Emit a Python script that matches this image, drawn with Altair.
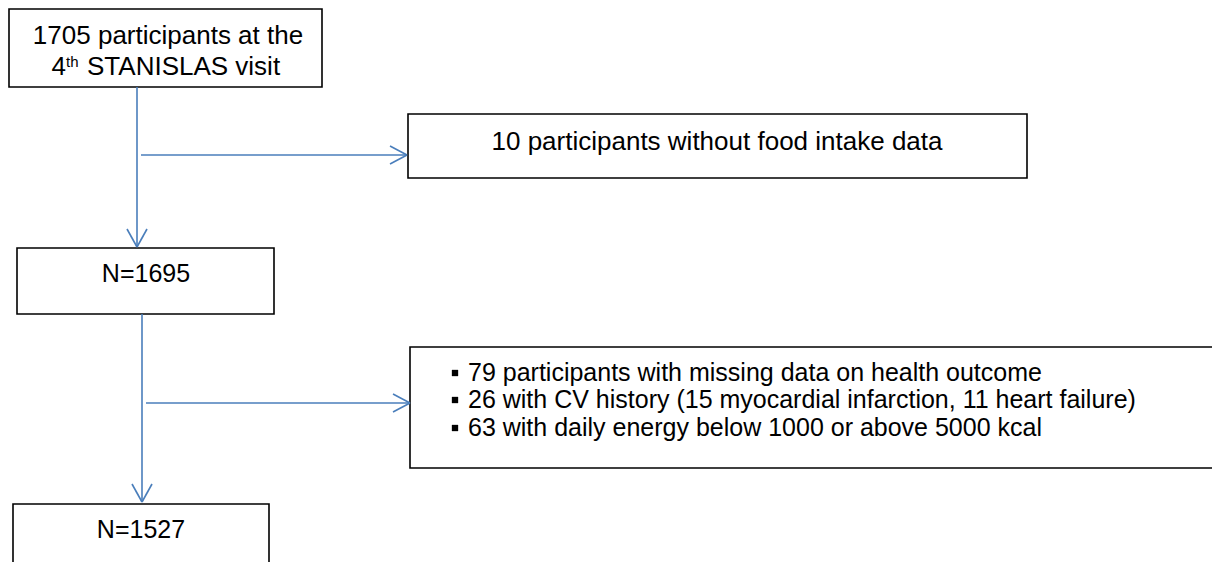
import altair as alt
import pandas as pd

# ---- boxes (reference pixel coordinates) ----
box_id = ["start", "excl1", "n1695", "excl2", "n1527"]
box_x1 = [9, 408, 17, 410, 13]
box_x2 = [322, 1027, 274, 1230, 269]
box_y1 = [9, 114, 248, 347, 504]
box_y2 = [87, 178, 314, 468, 580]

# ---- connector lines ----
seg_x1 = [137, 141, 142, 146]
seg_y1 = [87, 155, 314, 403]
seg_x2 = [137, 407, 142, 410]
seg_y2 = [247, 155, 502, 403]
# arrow direction at the end of each segment: "down" or "right"
seg_dir = ["down", "right", "down", "right"]

# ---- centred texts ----
ctext_label = ["1705 participants at the",
               "10 participants without food intake data",
               "N=1695", "N=1527"]
ctext_x = [168, 717, 146, 141]
ctext_y = [36, 142, 274, 530]
ctext_size = [26, 26, 25, 25]

# ---- second line of the first box, with superscript ----
sup_main = ["4", "STANISLAS visit"]
sup_main_x = [66, 87]
sup_main_y = [67, 67]
sup_align = ["right", "left"]
sup_small = ["th"]
sup_small_x = [66]
sup_small_y = [62]

# ---- bullet list ----
bullet_label = ["79 participants with missing data on health outcome",
                "26 with CV history (15 myocardial infarction, 11 heart failure)",
                "63 with daily energy below 1000 or above 5000 kcal"]
bullet_x = [468, 468, 468]
bullet_y = [373, 400, 428]
bullet_mark_x = [455, 455, 455]

BLUE = "#4a7ebb"
FONT = "Liberation Sans"
FS = 25

W, H = 1204, 554
xs = alt.Scale(domain=[8, 8 + W], nice=False, zero=False)
ys = alt.Scale(domain=[8, 8 + H], nice=False, zero=False, reverse=True)
X = lambda f: alt.X(f, type="quantitative", scale=xs, axis=None)
Y = lambda f: alt.Y(f, type="quantitative", scale=ys, axis=None)

boxes = pd.DataFrame(dict(id=box_id, x1=box_x1, x2=box_x2, y1=box_y1, y2=box_y2))

# build segment table, including arrowhead strokes
rows = []
for a, b, c, d, s in zip(seg_x1, seg_y1, seg_x2, seg_y2, seg_dir):
    rows.append(dict(x1=a, y1=b, x2=c, y2=d))
    if s == "down":
        rows.append(dict(x1=c - 10, y1=d - 18, x2=c, y2=d))
        rows.append(dict(x1=c + 10, y1=d - 18, x2=c, y2=d))
    else:
        rows.append(dict(x1=c - 17, y1=d - 9, x2=c, y2=d))
        rows.append(dict(x1=c - 17, y1=d + 9, x2=c, y2=d))
segs = pd.DataFrame(rows)

ctext = pd.DataFrame(dict(label=ctext_label, x=ctext_x, y=ctext_y, s=ctext_size))
supm = pd.DataFrame(dict(label=sup_main, x=sup_main_x, y=sup_main_y, al=sup_align))
sups = pd.DataFrame(dict(label=sup_small, x=sup_small_x, y=sup_small_y))
bul = pd.DataFrame(dict(label=bullet_label, x=bullet_x, y=bullet_y, bx=bullet_mark_x))

rect_layer = alt.Chart(boxes).mark_rect(
    fill="white", stroke="black", strokeWidth=1.6, clip=True
).encode(x=X("x1"), x2="x2", y=Y("y1"), y2="y2")

seg_layer = alt.Chart(segs).mark_rule(
    color=BLUE, strokeWidth=1.6, clip=True
).encode(x=X("x1"), x2="x2", y=Y("y1"), y2="y2")

ctext_layer = alt.Chart(ctext).mark_text(
    font=FONT, color="black", align="center", baseline="middle"
).encode(x=X("x"), y=Y("y"), text="label",
         size=alt.Size("s:Q", scale=None, legend=None))

sup4 = alt.Chart(supm[supm.al == "right"]).mark_text(
    font=FONT, fontSize=26, color="black", align="right", baseline="middle"
).encode(x=X("x"), y=Y("y"), text="label")
supS = alt.Chart(supm[supm.al == "left"]).mark_text(
    font=FONT, fontSize=26, color="black", align="left", baseline="middle"
).encode(x=X("x"), y=Y("y"), text="label")
supth = alt.Chart(sups).mark_text(
    font=FONT, fontSize=15, color="black", align="left", baseline="middle"
).encode(x=X("x"), y=Y("y"), text="label")

bul_text = alt.Chart(bul).mark_text(
    font=FONT, fontSize=FS, color="black", align="left", baseline="middle"
).encode(x=X("x"), y=Y("y"), text="label")
bul_mark = alt.Chart(bul).mark_square(
    color="black", opacity=1, size=40
).encode(x=X("bx"), y=Y("y"))

chart = alt.layer(
    rect_layer, seg_layer, ctext_layer, sup4, supS, supth, bul_text, bul_mark
).properties(
    width=W, height=H, padding=0, autosize=alt.AutoSizeParams(type="none")
).configure(background="white").configure_view(stroke="transparent", strokeWidth=0)

chart.save("out.html", embed_options={"renderer": "svg", "actions": False})
